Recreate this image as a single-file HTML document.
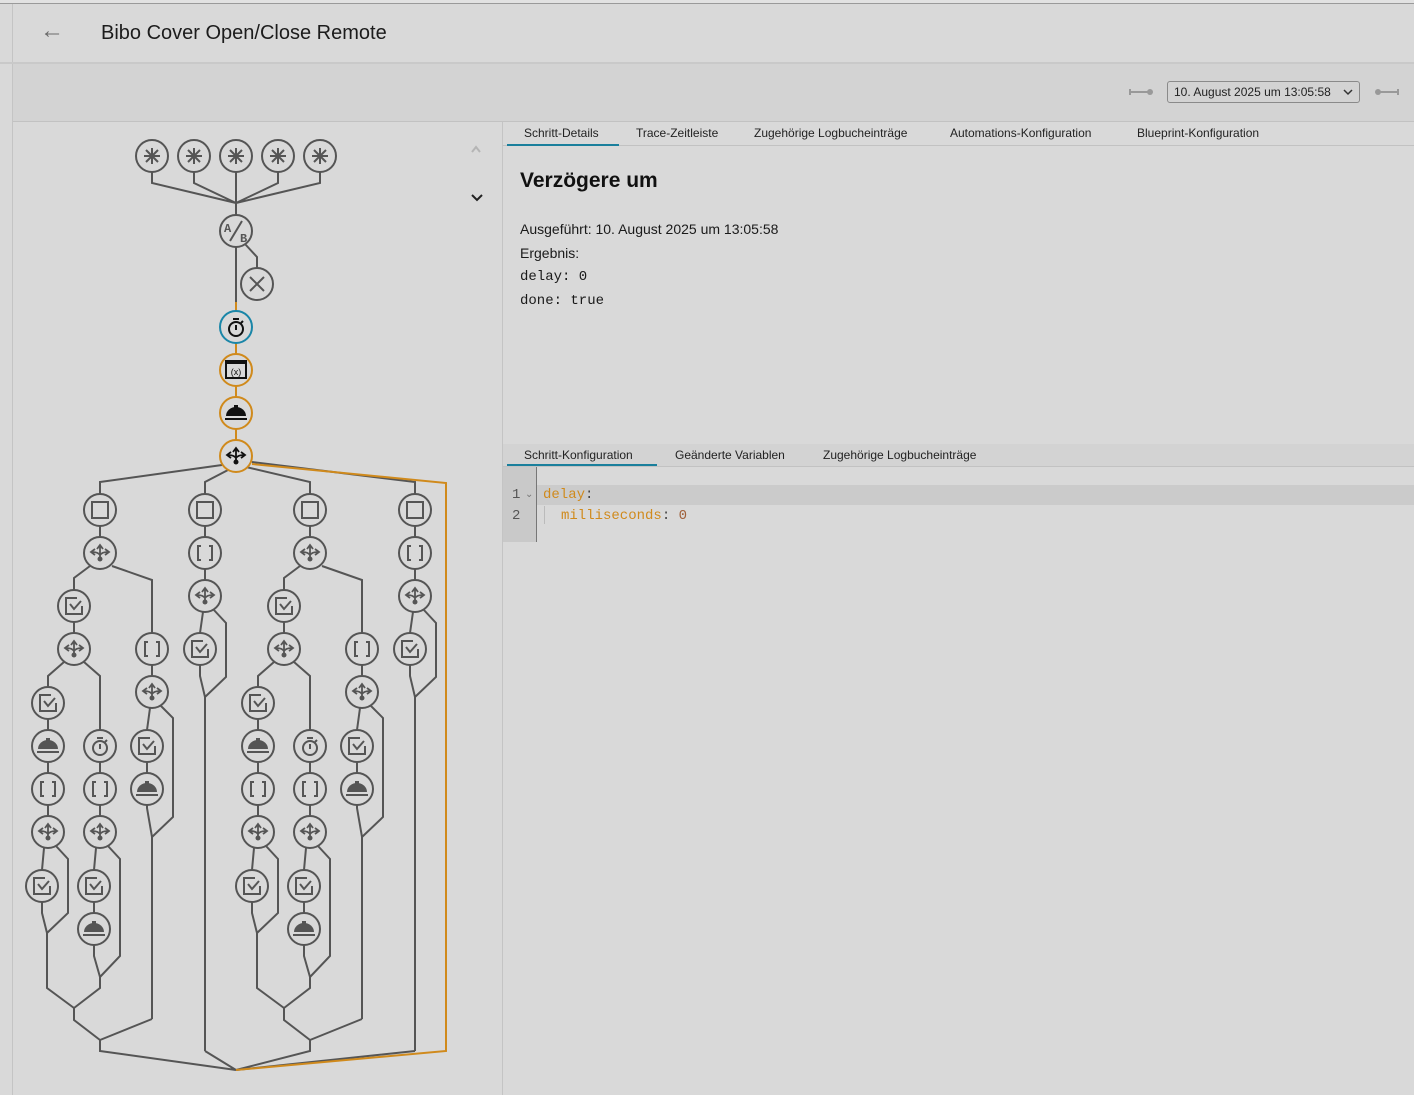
<!DOCTYPE html>
<html><head><meta charset="utf-8"><style>
*{margin:0;padding:0;box-sizing:border-box}
body{width:1414px;height:1095px;background:#d9d9d9;font-family:"Liberation Sans",sans-serif;color:#1a1a1a;position:relative;overflow:hidden}
.abs{position:absolute}
.tab{position:absolute;font-size:12px;color:#222;white-space:nowrap}
.mono{font-family:"Liberation Mono",monospace}
</style></head><body>
<div class="abs" style="left:0;top:0;width:1414px;height:4px;background:#e2e2e2;border-bottom:1px solid #9a9a9a"></div>
<div class="abs" style="left:12px;top:4px;width:1px;height:1091px;background:#c4c4c4"></div>
<div class="abs" style="left:0;top:62px;width:1414px;height:2px;background:#c9c9c9"></div>
<div class="abs" style="left:13px;top:64px;width:1401px;height:57px;background:#d3d3d3"></div>
<div class="abs" style="left:13px;top:121px;width:1401px;height:1px;background:#c2c2c2"></div>
<div class="abs" style="left:502px;top:122px;width:1px;height:973px;background:#c4c4c4"></div>
<div class="abs" style="left:40px;top:18px;font-size:24px;color:#6a6a6a;line-height:26px">&#8592;</div>
<div class="abs" style="left:101px;top:22px;font-size:20px;color:#1c1c1c">Bibo Cover Open/Close Remote</div>

<svg class="abs" style="left:1128px;top:85px" width="30" height="14"><path d="M2,7H22M2,4V10" stroke="#999" stroke-width="2" fill="none"/><circle cx="22" cy="7" r="3" fill="#999"/></svg>
<div class="abs" style="left:1167px;top:81px;width:193px;height:22px;border:1px solid #8a8a8a;border-radius:3px;background:#d3d3d3;font-size:12px;padding:3px 0 0 6px;color:#222">10. August 2025 um 13:05:58</div>
<svg class="abs" style="left:1342px;top:87px" width="12" height="10"><path d="M2,3L6,7L10,3" stroke="#333" stroke-width="1.5" fill="none"/></svg>
<svg class="abs" style="left:1372px;top:85px" width="30" height="14"><circle cx="6" cy="7" r="3" fill="#999"/><path d="M6,7H26M26,4V10" stroke="#999" stroke-width="2" fill="none"/></svg>

<div class="tab" style="left:524px;top:126px">Schritt-Details</div>
<div class="tab" style="left:636px;top:126px">Trace-Zeitleiste</div>
<div class="tab" style="left:754px;top:126px">Zugehörige Logbucheinträge</div>
<div class="tab" style="left:950px;top:126px">Automations-Konfiguration</div>
<div class="tab" style="left:1137px;top:126px">Blueprint-Konfiguration</div>
<div class="abs" style="left:503px;top:145px;width:911px;height:1px;background:#c2c2c2"></div>
<div class="abs" style="left:507px;top:144px;width:112px;height:2px;background:#1a7f9c"></div>

<div class="abs" style="left:520px;top:169px;font-size:21px;font-weight:bold;color:#111">Verzögere um</div>
<div class="abs" style="left:520px;top:221px;font-size:14px">Ausgeführt: 10. August 2025 um 13:05:58</div>
<div class="abs" style="left:520px;top:245px;font-size:14px">Ergebnis:</div>
<div class="abs mono" style="left:520px;top:269px;font-size:14px">delay: 0</div>
<div class="abs mono" style="left:520px;top:293px;font-size:14px">done: true</div>

<div class="abs" style="left:503px;top:444px;width:911px;height:23px;background:#d3d3d3;border-bottom:1px solid #c2c2c2"></div>
<div class="tab" style="left:524px;top:448px">Schritt-Konfiguration</div>
<div class="tab" style="left:675px;top:448px">Geänderte Variablen</div>
<div class="tab" style="left:823px;top:448px">Zugehörige Logbucheinträge</div>
<div class="abs" style="left:507px;top:464px;width:150px;height:2px;background:#1a7f9c"></div>
<div class="abs" style="left:503px;top:467px;width:34px;height:75px;background:#c9c9c9"></div>
<div class="abs" style="left:536px;top:467px;width:1px;height:75px;background:#777"></div>
<div class="abs" style="left:537px;top:485px;width:877px;height:20px;background:#cbcbcb"></div>
<div class="abs mono" style="left:512px;top:487px;font-size:14px;color:#555">1</div>
<div class="abs" style="left:525px;top:489px;font-size:10px;color:#777">&#8964;</div>
<div class="abs mono" style="left:512px;top:508px;font-size:14px;color:#555">2</div>
<div class="abs mono" style="left:543px;top:487px;font-size:14px;color:#d08a1c">delay<span style="color:#444">:</span></div>
<div class="abs" style="left:544px;top:506px;width:1px;height:18px;background:#bbb"></div>
<div class="abs mono" style="left:561px;top:508px;font-size:14px;color:#d08a1c">milliseconds<span style="color:#444">: </span><span style="color:#a0603a">0</span></div>

<svg class="abs" style="left:0;top:0" width="502" height="1095">
<defs>
<symbol id="trig" overflow="visible"><path d="M0,-8V8M-8,0H8M-6,-6L6,6M-6,6L6,-6" stroke-width="2"/></symbol>
<symbol id="sq" overflow="visible"><rect x="-8" y="-8" width="16" height="16" stroke-width="2" fill="none"/></symbol>
<symbol id="br" overflow="visible"><path d="M-4,-7H-7V7H-4M4,-7H7V7H4" stroke-width="2" fill="none"/></symbol>
<symbol id="ch" overflow="visible"><path d="M0,5V-7M-3,-4L0,-8L3,-4M0,2Q-2,-1-8,-1M-5,-4L-9,-1L-5,2M0,2Q2,-1 8,-1M5,-4L9,-1L5,2" stroke-width="1.8" fill="none"/><circle cx="0" cy="6" r="2.5" stroke="none"/></symbol>
<symbol id="ck" overflow="visible"><path d="M3,-8H-8V8H8V0M-4,-2L0,3L7,-5" stroke-width="2" fill="none"/></symbol>
<symbol id="bell" overflow="visible"><path d="M-10,3A10,9 0 0 1 10,3Z" stroke="none"/><rect x="-11" y="5" width="22" height="2" stroke="none"/><rect x="-2" y="-8" width="4" height="3" stroke="none"/></symbol>
<symbol id="tm" overflow="visible"><circle cx="0" cy="2" r="7" stroke-width="2" fill="none"/><path d="M-3,-8H3M0,-2V3M5,-4L7,-6" stroke-width="2" fill="none"/></symbol>
<g id="n"><circle r="16" fill="#d9d9d9" stroke="#555" stroke-width="2"/></g>
</defs>

<path d="M478,152L482,147L486,152" transform="translate(-6,0)" stroke="#b5b5b5" stroke-width="2" fill="none"/>
<path d="M472,195L477,200L482,195" stroke="#222" stroke-width="2" fill="none"/>

<g stroke="#555" stroke-width="2" fill="none">
<path d="M152,172V183L236,203M194,172V183L236,203M236,172V215M278,172V183L236,203M320,172V183L236,203"/>
<path d="M245,244L257,257V268M236,247V302"/>
<path d="M222,465L100,482V494M228,470L205,482V494M246,467L310,482V494M252,462L415,482V494"/>
<path d="M100,1040V1051L236,1070M310,1040V1051L236,1070M205,1051L236,1070M415,1051L236,1070"/>
</g>
<g stroke="#d08a1c" stroke-width="2" fill="none">
<path d="M236,302V311M236,343V354M236,386V397M236,429V440"/>
<path d="M252,464L446,483V1051L236,1070"/>
</g>

<g id="col1">
<g stroke="#555" stroke-width="2" fill="none">
<path d="M100,526V537M90,566L74,578V590M74,622V633M112,566L152,580V633M152,665V676"/>
<path d="M64,662L48,676V687M48,719V730M48,762V773M48,805V816M84,662L100,676V730M100,762V773M100,805V816"/>
<path d="M44,848L42,870M42,902V913L47,933V988L74,1008M56,846L68,859V913L47,933"/>
<path d="M96,848L94,870M94,902V913M94,945V956L100,977V988L74,1008M108,846L120,859V956L100,977"/>
<path d="M74,1008V1020L100,1040M152,1019L100,1040"/>
<path d="M150,708L147,730M147,762V773M147,805V808L152,837V1019M160,705L173,718V817L152,837"/>
</g>
<g fill="#555" stroke="#555">
<use href="#n" x="100" y="510"/><use href="#sq" x="100" y="510"/>
<use href="#n" x="100" y="553"/><use href="#ch" x="100" y="553"/>
<use href="#n" x="74" y="606"/><use href="#ck" x="74" y="606"/>
<use href="#n" x="74" y="649"/><use href="#ch" x="74" y="649"/>
<use href="#n" x="152" y="649"/><use href="#br" x="152" y="649"/>
<use href="#n" x="152" y="692"/><use href="#ch" x="152" y="692"/>
<use href="#n" x="147" y="746"/><use href="#ck" x="147" y="746"/>
<use href="#n" x="147" y="789"/><use href="#bell" x="147" y="789"/>
<use href="#n" x="48" y="703"/><use href="#ck" x="48" y="703"/>
<use href="#n" x="48" y="746"/><use href="#bell" x="48" y="746"/>
<use href="#n" x="48" y="789"/><use href="#br" x="48" y="789"/>
<use href="#n" x="48" y="832"/><use href="#ch" x="48" y="832"/>
<use href="#n" x="42" y="886"/><use href="#ck" x="42" y="886"/>
<use href="#n" x="100" y="746"/><use href="#tm" x="100" y="746"/>
<use href="#n" x="100" y="789"/><use href="#br" x="100" y="789"/>
<use href="#n" x="100" y="832"/><use href="#ch" x="100" y="832"/>
<use href="#n" x="94" y="886"/><use href="#ck" x="94" y="886"/>
<use href="#n" x="94" y="929"/><use href="#bell" x="94" y="929"/>
</g>
</g>
<use href="#col1" x="210" y="0"/>

<g id="col2">
<g stroke="#555" stroke-width="2" fill="none">
<path d="M205,526V537M205,569V580M203,612L200,633M200,665V676L205,697V1051M213,609L226,623V677L205,697"/>
</g>
<g fill="#555" stroke="#555">
<use href="#n" x="205" y="510"/><use href="#sq" x="205" y="510"/>
<use href="#n" x="205" y="553"/><use href="#br" x="205" y="553"/>
<use href="#n" x="205" y="596"/><use href="#ch" x="205" y="596"/>
<use href="#n" x="200" y="649"/><use href="#ck" x="200" y="649"/>
</g>
</g>
<use href="#col2" x="210" y="0"/>

<g fill="#555" stroke="#555">
<use href="#n" x="152" y="156"/><use href="#trig" x="152" y="156"/>
<use href="#n" x="194" y="156"/><use href="#trig" x="194" y="156"/>
<use href="#n" x="236" y="156"/><use href="#trig" x="236" y="156"/>
<use href="#n" x="278" y="156"/><use href="#trig" x="278" y="156"/>
<use href="#n" x="320" y="156"/><use href="#trig" x="320" y="156"/>
<use href="#n" x="236" y="231"/>
<path d="M230,241L242,221" stroke-width="2"/>
<use href="#n" x="257" y="284"/>
<path d="M250,277L264,291M264,277L250,291" stroke-width="2" fill="none"/>
</g>
<text x="224" y="232" font-size="12" font-weight="bold" fill="#555" font-family="Liberation Mono,monospace">A</text>
<text x="240" y="242" font-size="12" font-weight="bold" fill="#555" font-family="Liberation Mono,monospace">B</text>

<circle cx="236" cy="327" r="16" fill="#d9d9d9" stroke="#1a86a8" stroke-width="2"/>
<g fill="#111" stroke="#111"><use href="#tm" x="236" y="327"/></g>
<circle cx="236" cy="370" r="16" fill="#d9d9d9" stroke="#d08a1c" stroke-width="2"/>
<rect x="226" y="361" width="20" height="17" fill="none" stroke="#111" stroke-width="2"/>
<rect x="226" y="361" width="20" height="3" fill="#111"/>
<text x="236" y="375" font-size="9" text-anchor="middle" fill="#111" font-family="Liberation Sans,sans-serif">(x)</text>
<circle cx="236" cy="413" r="16" fill="#d9d9d9" stroke="#d08a1c" stroke-width="2"/>
<g fill="#111" stroke="#111"><use href="#bell" x="236" y="413"/></g>
<circle cx="236" cy="456" r="16" fill="#d9d9d9" stroke="#d08a1c" stroke-width="2"/>
<g fill="#111" stroke="#111"><use href="#ch" x="236" y="456"/></g>
</svg>
</body></html>
